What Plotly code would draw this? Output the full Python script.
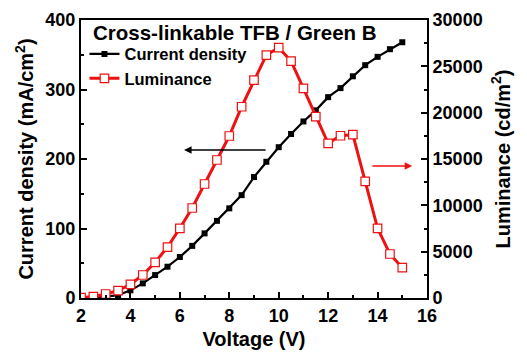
import plotly.graph_objects as go

voltage = [2, 2.5, 3, 3.5, 4, 4.5, 5, 5.5, 6, 6.5, 7, 7.5, 8, 8.5, 9, 9.5,
           10, 10.5, 11, 11.5, 12, 12.5, 13, 13.5, 14, 14.5, 15]
current_density = [0, 0.5, 2, 4, 11, 21, 33, 45, 59, 75, 93, 111, 129, 148, 174, 196,
                   217, 236, 254, 270, 289, 302, 319, 335, 347, 358, 368]
luminance = [30, 150, 430, 790, 1480, 2480, 3850, 5500, 7520, 9710, 12300, 14890, 17480,
             20640, 23520, 26220, 27010, 25570, 22630, 19570, 16690, 17510, 17620,
             12590, 7520, 4750, 3270]

FONT = "Liberation Sans"

fig = go.Figure()
fig.add_trace(go.Scatter(
    x=voltage, y=current_density, name="<b>Current density</b>", mode="lines+markers",
    line=dict(color="black", width=2.2),
    marker=dict(symbol="square", size=6, color="black"),
))
fig.add_trace(go.Scatter(
    x=voltage, y=luminance, name="<b>Luminance</b>", mode="lines+markers", yaxis="y2",
    line=dict(color="#ee1111", width=3),
    marker=dict(symbol="square", size=8.5, color="white", line=dict(color="#ee1111", width=1.2)),
))

tickfont = dict(family=FONT, size=18, color="black")
titlefont = dict(family=FONT, size=20, color="black")

common = dict(showline=True, linecolor="black", linewidth=2, automargin=False,
              ticks="inside", ticklen=6, tickwidth=2, tickcolor="black",
              showgrid=False, zeroline=False, tickfont=tickfont,
              tickprefix="<b>", ticksuffix="</b>")

fig.update_layout(
    width=527, height=354,
    margin=dict(l=81, r=100, t=20, b=56),
    paper_bgcolor="white", plot_bgcolor="white",
    showlegend=True,
    legend=dict(x=0.01, y=0.94, xanchor="left", yanchor="top",
                font=dict(family=FONT, size=16.5, color="black"),
                bgcolor="rgba(0,0,0,0)", tracegroupgap=0, itemwidth=30),
    xaxis=dict(range=[2, 16], dtick=2, tick0=2, mirror=True,
               minor=dict(dtick=1, ticks="inside", ticklen=3, tickwidth=2, tickcolor="black"),
               title=dict(text="<b>Voltage (V)</b>", font=titlefont, standoff=7), **common),
    yaxis=dict(range=[0, 400], dtick=100,
               minor=dict(dtick=50, ticks="inside", ticklen=3, tickwidth=2, tickcolor="black"),
               title=dict(text="<b>Current density (mA/cm<sup>2</sup>)</b>", font=titlefont, standoff=6),
               **common),
    yaxis2=dict(range=[0, 30000], dtick=5000, overlaying="y", side="right",
                tickformat="d",
                minor=dict(dtick=2500, ticks="inside", ticklen=3, tickwidth=2, tickcolor="black"),
                title=dict(text="<b>Luminance (cd/m<sup>2</sup>)</b>", font=titlefont, standoff=14),
                **common),
)

fig.add_annotation(text="<b>Cross-linkable TFB / Green B</b>", xref="paper", yref="paper",
                   x=0.03, y=0.955, xanchor="left", yanchor="middle", showarrow=False,
                   font=dict(family=FONT, size=20.5, color="black"))

# direction arrows
fig.add_annotation(x=6.17, y=213, ax=9.53, ay=213, xref="x", yref="y", axref="x", ayref="y",
                   showarrow=True, arrowhead=2, arrowsize=1, arrowwidth=1.5, arrowcolor="black", text="")
fig.add_annotation(x=15.4, y=190, ax=13.73, ay=190, xref="x", yref="y", axref="x", ayref="y",
                   showarrow=True, arrowhead=2, arrowsize=1, arrowwidth=1.5, arrowcolor="#ee1111", text="")

fig.write_html("out.html")
